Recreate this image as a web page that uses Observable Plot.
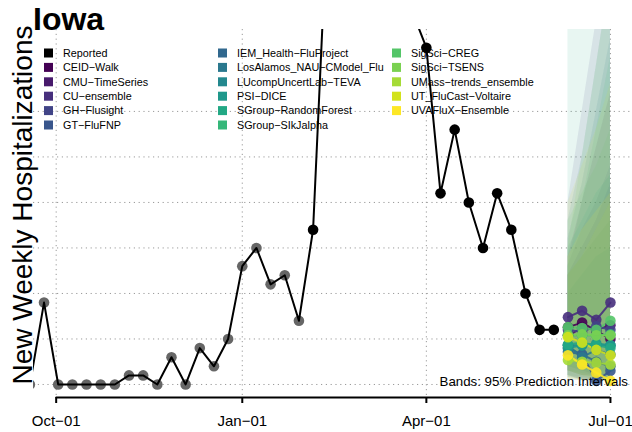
<!DOCTYPE html>
<html><head><meta charset="utf-8">
<script src="https://cdn.jsdelivr.net/npm/d3@7"></script>
<script src="https://cdn.jsdelivr.net/npm/@observablehq/plot@0.6"></script>
<style>
body{margin:0;background:#fff;}
#chart{position:relative;width:632px;height:432px;font-family:"Liberation Sans",Arial,Helvetica,sans-serif;}
</style></head><body><div id="chart"></div>
<script>
// ---------- data ----------
const reportedDates = ["2023-09-18","2023-09-25","2023-10-02","2023-10-09","2023-10-16","2023-10-23","2023-10-30",
  "2023-11-06","2023-11-13","2023-11-20","2023-11-27","2023-12-04","2023-12-11","2023-12-18","2023-12-25",
  "2024-01-01","2024-01-08","2024-01-15","2024-01-22","2024-01-29","2024-02-05","2024-02-12","2024-02-19",
  "2024-02-26","2024-03-04","2024-03-11","2024-03-18","2024-03-25","2024-04-01","2024-04-08","2024-04-15",
  "2024-04-22","2024-04-29","2024-05-06","2024-05-13","2024-05-20","2024-05-27","2024-06-03"];
const reportedValues = [0,9,0,0,0,0,0,1,1,0,3,0,4,2,5,13,15,11,12,7,17,51,68,79,74,63,52,41,37,21,28,20,15,21,17,10,6,6];
const archivedThrough = "2024-01-29";

const forecastDates = ["2024-06-10","2024-06-17","2024-06-24","2024-07-01"];
const models = ["CEID-Walk","CMU-TimeSeries","CU-ensemble","GH-Flusight","GT-FluFNP","IEM_Health-FluProject",
  "LosAlamos_NAU-CModel_Flu","LUcompUncertLab-TEVA","PSI-DICE","SGroup-RandomForest","SGroup-SIkJalpha",
  "SigSci-CREG","SigSci-TSENS","UMass-trends_ensemble","UT_FluCast-Voltaire","UVAFluX-Ensemble"];
const forecastMedian = [
  [6.3,6.8,5.9,5.0],[5.4,6.2,6.0,6.5],[7.4,8.1,7.1,9.0],[6.0,5.8,6.4,6.0],
  [4.0,3.3,0.4,1.5],[3.6,3.3,2.5,2.0],[4.3,3.0,3.8,3.3],[4.3,4.3,4.3,4.3],
  [4.0,4.3,4.5,4.3],[4.4,4.6,4.3,4.0],[5.4,5.4,5.4,5.5],[6.3,6.2,6.0,7.0],
  [5.4,5.5,5.4,5.4],[2.7,2.5,2.4,2.2],[5.2,4.6,3.8,3.2],[3.2,2.2,1.3,0.4]];
const forecastLower = [
  [1.0,0.5,0.5,0.4],[1.5,1.0,0.8,0.5],[2.0,1.5,1.0,1.0],[1.5,1.0,1.0,0.5],
  [0.5,0.4,0.4,0.4],[0.8,0.5,0.4,0.4],[1.0,0.5,0.5,0.4],[1.5,1.2,1.0,0.8],
  [1.0,0.8,0.6,0.5],[0.8,0.6,0.5,0.4],[2.0,1.5,1.2,1.0],[1.5,1.0,0.8,0.6],
  [2.0,1.8,1.5,1.2],[0.6,0.5,0.4,0.4],[1.5,1.0,0.6,0.4],[0.6,0.4,0.4,0.4]];
const forecastUpper = [
  [14,20,26,32],[12,15,18,22],[20,30,40,50],[13,17,20,24],
  [10,12,14,15],[16,22,30,38],[18,25,35,45],[12,14,16,18],
  [15,18,21,23],[80,80,80,80],[13,20,28,36],[18,21,24,28],
  [15,25,35,45],[12,14,17,20],[20,24,28,33],[14,17,19,21]];

const modelColors = ["#440154","#481A6C","#472F7D","#414487","#39568C","#31688E","#2A788E","#23888E",
  "#1F988B","#22A884","#35B779","#54C568","#7AD151","#A5DB36","#D2E21B","#FDE725"];
const yGridTicks = [0,5,10,15,20,25,30];
const xTickDates = ["2023-10-01","2024-01-01","2024-04-01","2024-07-01"];
const yDomain = [-1.43, 39];
const xDomain = ["2023-09-19T19:00Z","2024-07-10T22:00Z"];

// ---------- tables ----------
const reported = reportedDates.map((d,i)=>({date:new Date(d), value:reportedValues[i], archived:d<=archivedThrough}));
const fc = models.flatMap((m,i)=>forecastDates.map((d,j)=>({
  model:m, date:new Date(d), median:forecastMedian[i][j], lower:forecastLower[i][j], upper:forecastUpper[i][j]})));
const xTicks = xTickDates.map(d=>new Date(d));
const fmt = d3.utcFormat("%b-%d");
const tickFormat = d => fmt(d).replace("-", "\u2212");
const grid = {stroke:"#9a9a9a", strokeOpacity:1, strokeWidth:1, strokeDasharray:"1.2,3.6"};

const svg = Plot.plot({
  width:632, height:432, marginTop:29, marginBottom:35, marginLeft:33, marginRight:2,
  x:{type:"utc", domain:xDomain.map(d=>new Date(d)), axis:null},
  y:{domain:yDomain, axis:null},
  color:{domain:models, range:modelColors},
  style:{fontFamily:'"Liberation Sans",Arial,Helvetica,sans-serif', color:"#000", background:"#fff", overflow:"visible"},
  marks:[
    Plot.gridY(yGridTicks, grid),
    Plot.gridX(xTicks, grid),
    Plot.areaY(fc, {x:"date", y1:"lower", y2:"upper", z:"model", fill:"model", fillOpacity:0.1, clip:true}),
    Plot.dot(reported.filter(d=>d.archived), {x:"date", y:"value", r:5.3, fill:"#666", clip:true}),
    Plot.line(reported, {x:"date", y:"value", stroke:"#000", strokeWidth:2, clip:true}),
    Plot.dot(reported.filter(d=>!d.archived), {x:"date", y:"value", r:5.3, fill:"#000", clip:true}),
    Plot.line(fc, {x:"date", y:"median", z:"model", stroke:"model", strokeWidth:2, strokeOpacity:0.9}),
    Plot.dot(fc, {x:"date", y:"median", fill:"model", r:5.3, fillOpacity:0.9}),
    Plot.ruleY([yDomain[0]], {x1:xTicks[0], x2:xTicks[xTicks.length-1], stroke:"#000", strokeWidth:2}),
    Plot.axisX(xTicks, {tickSize:6, tickPadding:12, tickFormat, fontSize:15, stroke:"#000", strokeWidth:2, label:null})
  ]
});
document.getElementById("chart").appendChild(svg);

// ---------- annotations ----------
const s = d3.select(svg);
const font = '"Liberation Sans",Arial,Helvetica,sans-serif';
s.append("text").attr("x",33).attr("y",30).attr("text-anchor","start").attr("font-size",32).attr("font-weight","bold")
  .attr("font-family",font).attr("fill","#000").text("Iowa");
s.append("text").attr("transform","translate(32,205) rotate(-90)").attr("text-anchor","middle")
  .attr("font-size",28).attr("font-family",font).attr("fill","#000").text("New Weekly Hospitalizations");
s.append("text").attr("x",628).attr("y",386).attr("text-anchor","end").attr("font-size",13.3)
  .attr("font-family",font).attr("fill","#000").text("Bands: 95% Prediction Intervals");

const legendItems = [{label:"Reported", color:"#000"}].concat(models.map((m,i)=>({label:m, color:modelColors[i]})));
const colX = [44, 218, 392];
const rowY0 = 53, rowStep = 14.4;
legendItems.forEach((it,i)=>{
  const c = Math.floor(i/6), r = i%6;
  const g = s.append("g").attr("transform",`translate(${colX[c]},${rowY0 + r*rowStep})`);
  g.append("rect").attr("x",0).attr("y",-4.5).attr("width",9).attr("height",9).attr("fill",it.color);
  g.append("text").attr("x",19).attr("y",0).attr("dy","0.36em").attr("text-anchor","start").attr("font-size",10.8)
    .attr("font-family",font).attr("fill","#000").text(it.label.replace(/-/g,"\u2212"));
});
</script></body></html>
